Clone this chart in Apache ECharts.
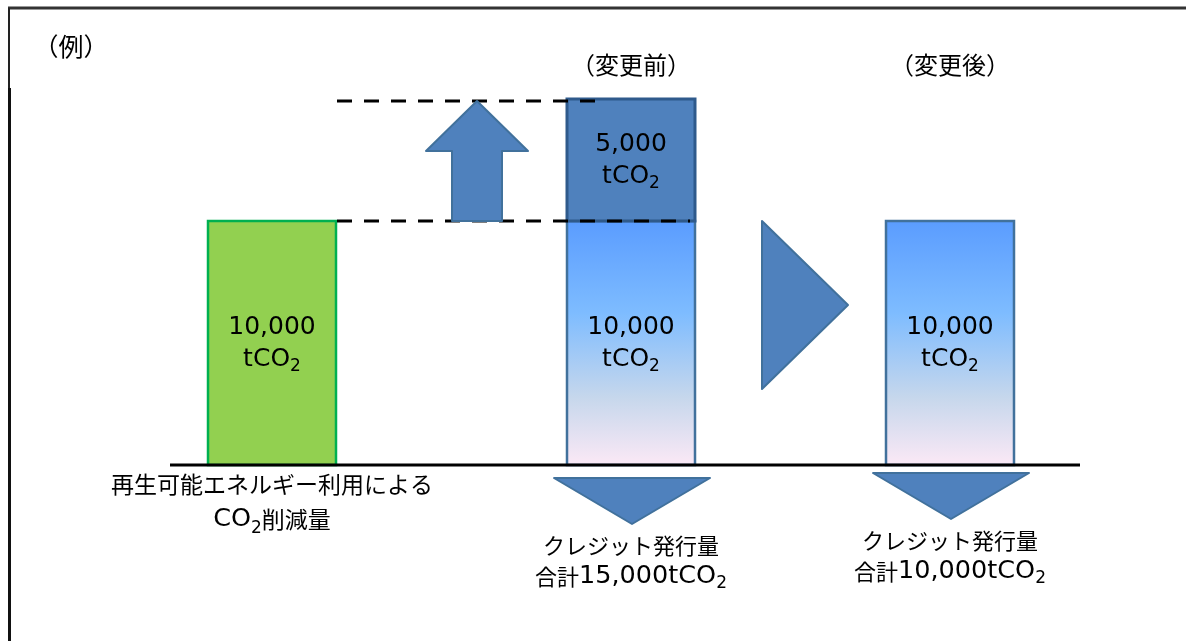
<!DOCTYPE html>
<html>
<head>
<meta charset="utf-8">
<script src="https://cdn.jsdelivr.net/npm/echarts@6/dist/echarts.min.js"></script>
<style>
html,body{margin:0;padding:0;background:#fff;}
#chart{width:1186px;height:641px;}
</style>
</head>
<body>
<div id="chart"></div>
<script>
// ---------- data ----------
const categories = ['再生可能エネルギー利用による\nCO₂削減量', 'クレジット発行量\n合計15,000tCO₂', 'クレジット発行量\n合計10,000tCO₂'];
const stageLabels = ['', '（変更前）', '（変更後）'];
const baseValues = [10000, 10000, 10000];
const addedValues = [0, 5000, 0];
const unitLabel = 'tCO₂';
const exampleLabel = '（例）';

// ---------- layout (not data) ----------
const BAR_X = [272, 631, 950];
const BAR_W = 128;
const CAT_OFFSET = [37, 96, 91];
const CAT_LH = [35, 31, 31];
const CAT_SIZE = [23, 22, 22];
const TRI_TOP = [0, 13, 8];

const FONT_CJK = "'Noto Sans CJK JP', sans-serif";
const FONT_MIX = "'DejaVu Sans', 'Noto Sans CJK JP', sans-serif";
const ARROW_FILL = '#4F81BD';
const ARROW_STROKE = '#41719C';

function rich(s) { return s.replace(/₂/g, '{sub|2}'); }
function richCat(s) {
  return s.replace(/[A-Za-z0-9,]+/g, function (m) { return '{lat|' + m + '}'; }).replace(/₂/g, '{sub|2}');
}
function fmt(v) { return v.toLocaleString('en-US'); }

function textEl(str, x, y, size, lh, subSize, family, latSize) {
  const r = { sub: { fontSize: subSize, fontFamily: "'DejaVu Sans', sans-serif", lineHeight: subSize, verticalAlign: 'bottom', fill: '#000' } };
  if (latSize) r.lat = { fontSize: latSize, fontFamily: "'DejaVu Sans', sans-serif", lineHeight: lh, fill: '#000' };
  return {
    type: 'text',
    z2: 20,
    style: {
      text: latSize ? richCat(str) : rich(str), x: x, y: y, align: 'center', verticalAlign: 'middle',
      fontSize: size, fontFamily: family, lineHeight: lh, fill: '#000',
      rich: r
    }
  };
}

const maxVal = Math.max.apply(null, baseValues.map((v, i) => v + addedValues[i]));
const barData = categories.map((c, i) => [i, baseValues[i], addedValues[i]]);

function renderBar(params, api) {
  const i = api.value(0);
  const base = api.value(1);
  const added = api.value(2);
  const cx = BAR_X[i];
  const p0 = api.coord([cx, 0]);
  const p1 = api.coord([cx, base]);
  const p2 = api.coord([cx, base + added]);
  const children = [];
  const isGreen = i === 0;
  const fill = isGreen ? '#92D050' : new echarts.graphic.LinearGradient(0, 0, 0, 1, [
    { offset: 0, color: '#5A9CFF' },
    { offset: 0.38, color: '#7EBCFF' },
    { offset: 0.72, color: '#C6D7EC' },
    { offset: 1, color: '#FCE9F6' }
  ]);
  children.push({
    type: 'rect', z2: 1,
    shape: { x: cx - BAR_W / 2, y: p1[1], width: BAR_W, height: p0[1] - p1[1] },
    style: { fill: fill, stroke: isGreen ? '#00B050' : '#41719C', lineWidth: 2.5 }
  });
  children.push(textEl(fmt(base) + '\n' + unitLabel, cx, (p0[1] + p1[1]) / 2, 25, 32, 17, FONT_MIX));
  if (added > 0) {
    children.push({
      type: 'rect', z2: 2,
      shape: { x: cx - BAR_W / 2, y: p2[1], width: BAR_W, height: p1[1] - p2[1] },
      style: { fill: '#4F81BD', stroke: '#2F5A8C', lineWidth: 3 }
    });
    children.push(textEl(fmt(added) + '\n' + unitLabel, cx, (p1[1] + p2[1]) / 2, 25, 32, 17, FONT_MIX));
  }
  children.push(textEl(categories[i], cx, p0[1] + CAT_OFFSET[i], CAT_SIZE[i], CAT_LH[i], 17, FONT_CJK, 25.5));
  if (stageLabels[i]) {
    children.push(textEl(stageLabels[i], cx, 65, 24, 30, 16, FONT_CJK));
  }
  return { type: 'group', children: children };
}

function renderDecor(params, api) {
  const y0 = api.coord([0, 0])[1];
  const yLow = api.coord([0, baseValues[1]])[1];
  const yHigh = api.coord([0, baseValues[1] + addedValues[1]])[1];
  const ch = [];
  ch.push({ type: 'line', z2: 5, shape: { x1: 170, y1: y0, x2: 1080, y2: y0 }, style: { stroke: '#000', lineWidth: 3 } });
  ch.push({ type: 'line', z2: 6, shape: { x1: 337, y1: yHigh + 2, x2: 603, y2: yHigh + 2 }, style: { stroke: '#000', lineWidth: 3, lineDash: [15, 12] } });
  ch.push({ type: 'line', z2: 6, shape: { x1: 337, y1: yLow, x2: 690, y2: yLow }, style: { stroke: '#000', lineWidth: 3, lineDash: [15, 12] } });
  const ax = 477;
  const tip = yHigh + 2;
  ch.push({
    type: 'polygon', z2: 7,
    shape: { points: [[ax, tip], [ax + 51, tip + 50], [ax + 25, tip + 50], [ax + 25, yLow], [ax - 25, yLow], [ax - 25, tip + 50], [ax - 51, tip + 50]] },
    style: { fill: ARROW_FILL, stroke: ARROW_STROKE, lineWidth: 2, lineJoin: 'round' }
  });
  ch.push({
    type: 'polygon', z2: 7,
    shape: { points: [[762, yLow], [848, yLow + 84], [762, yLow + 168]] },
    style: { fill: ARROW_FILL, stroke: ARROW_STROKE, lineWidth: 2, lineJoin: 'round' }
  });
  [1, 2].forEach(function (i) {
    const cx = BAR_X[i] + 1;
    const t = y0 + TRI_TOP[i];
    ch.push({
      type: 'polygon', z2: 7,
      shape: { points: [[cx - 78, t], [cx + 78, t], [cx, t + 46]] },
      style: { fill: ARROW_FILL, stroke: ARROW_STROKE, lineWidth: 2, lineJoin: 'round' }
    });
  });
  return { type: 'group', children: ch };
}

const chart = echarts.init(document.getElementById('chart'));
chart.setOption({
  animation: false,
  backgroundColor: '#fff',
  grid: { left: 0, right: 0, top: 99, bottom: 176 },
  xAxis: { type: 'value', min: 0, max: 1186, show: false },
  yAxis: { type: 'value', min: 0, max: maxVal, show: false },
  graphic: [
    { type: 'line', shape: { x1: 8, y1: 8, x2: 1186, y2: 8 }, style: { stroke: '#333', lineWidth: 3 } },
    { type: 'line', shape: { x1: 9, y1: 8, x2: 9, y2: 88 }, style: { stroke: '#222', lineWidth: 2 } },
    { type: 'line', shape: { x1: 9.5, y1: 88, x2: 9.5, y2: 641 }, style: { stroke: '#111', lineWidth: 3 } },
    { type: 'text', x: 71, y: 46, style: { text: exampleLabel, align: 'center', verticalAlign: 'middle', textAlign: 'center', textVerticalAlign: 'middle', fontSize: 25, fontFamily: FONT_CJK, fill: '#000' } }
  ],
  series: [
    { type: 'custom', name: 'bars', coordinateSystem: 'cartesian2d', renderItem: renderBar, data: barData, z: 2, clip: false, silent: true },
    { type: 'custom', name: 'decor', coordinateSystem: 'cartesian2d', renderItem: renderDecor, data: [[0, 0]], z: 3, clip: false, silent: true }
  ]
});
</script>
</body>
</html>
